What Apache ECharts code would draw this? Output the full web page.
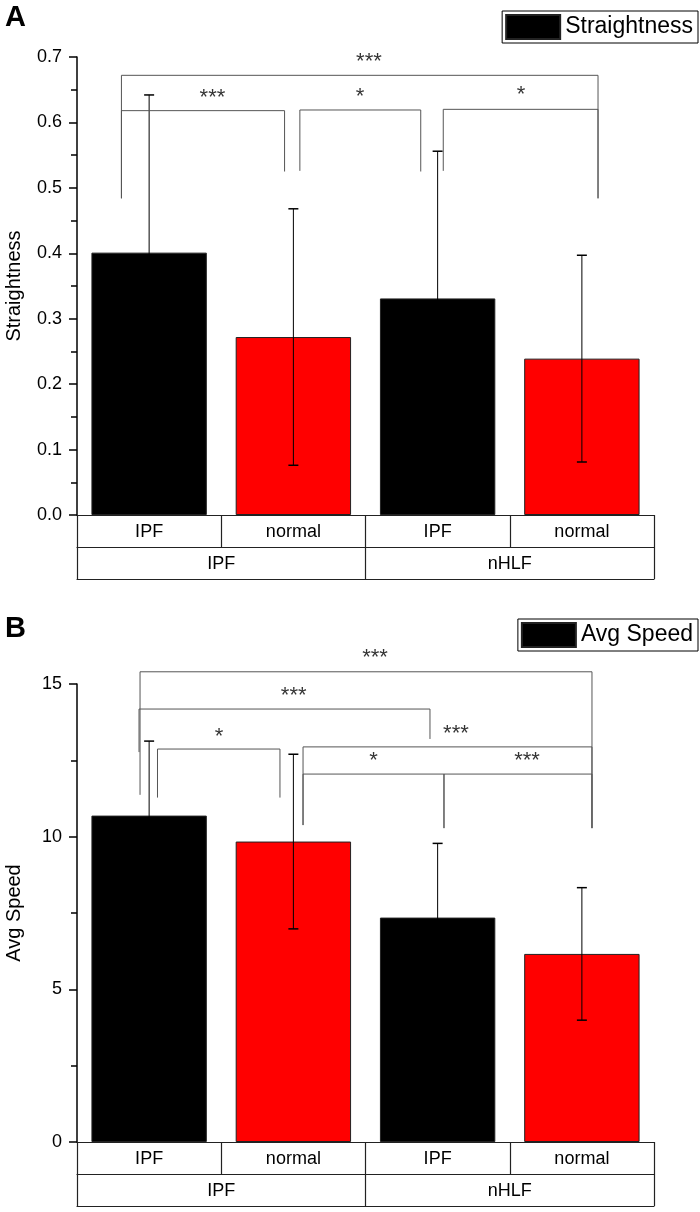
<!DOCTYPE html>
<html><head><meta charset="utf-8">
<script src="https://cdn.jsdelivr.net/npm/echarts@6/dist/echarts.min.js"></script>
<style>html,body{margin:0;padding:0;background:#fff}#c{width:700px;height:1212px}</style>
</head><body><div id="c"></div>
<script>
// ---------- data ----------
const categories = ['IPF', 'normal', 'IPF', 'normal'];
const groups = ['IPF', 'nHLF'];
const barColors = ['#000000', '#ff0000', '#000000', '#ff0000'];

const straightMean = [0.401, 0.272, 0.331, 0.239];
const straightSD   = [0.241, 0.196, 0.225, 0.158];
const speedMean    = [10.69, 9.84, 7.35, 6.16];
const speedSD      = [2.44, 2.86, 2.43, 2.17];

// significance brackets: [xStart, xEnd, yLine, yLegStartBottom, yLegEndBottom]  (x in category slots 0..4)
const straightBrackets = [
  [0.308, 3.612, 0.672, 0.484, 0.484],
  [0.308, 1.439, 0.618, 0.484, 0.525],
  [1.545, 2.383, 0.619, 0.526, 0.525],
  [2.539, 3.612, 0.620, 0.526, 0.484]
];
const straightStars = [
  ['***', 2.024, 0.700],
  ['***', 0.939, 0.645],
  ['*',   1.962, 0.647],
  ['*',   3.078, 0.649]
];
const speedBrackets = [
  [0.437, 3.570, 15.40, 11.37, 10.28],
  [0.430, 2.447, 14.18, 12.77, 13.20],
  [0.558, 1.407, 12.87, 11.28, 11.28],
  [1.567, 3.570, 12.94, 10.38, 10.28],
  [1.567, 2.544, 12.05, 10.38, 10.28],
  [2.544, 3.570, 12.05, 10.28, 10.28]
];
const speedStars = [
  ['***', 2.066, 16.02],
  ['***', 1.502, 14.78],
  ['*',   0.984, 13.44],
  ['***', 2.627, 13.53],
  ['*',   2.055, 12.65],
  ['***', 3.120, 12.65]
];

// ---------- chart ----------
const FONT = '"Liberation Sans", Arial, sans-serif';
const chart = echarts.init(document.getElementById('c'), null, {renderer: 'canvas'});

function yAxis(gi, name, max, interval, fmt) {
  return {
    type: 'value', gridIndex: gi, min: 0, max: max, interval: interval,
    name: name, nameLocation: 'middle', nameGap: 53,
    nameTextStyle: {fontSize: 20, color: '#000', fontFamily: FONT},
    axisLine: {show: true, lineStyle: {color: '#000', width: 1.5}},
    axisTick: {show: true, inside: false, length: 8, lineStyle: {color: '#000', width: 1.5}},
    minorTick: {show: true, splitNumber: 2, length: 6, lineStyle: {color: '#000', width: 1.5}},
    axisLabel: {fontSize: 18, color: '#000', margin: 15, fontFamily: FONT, formatter: fmt},
    splitLine: {show: false}, minorSplitLine: {show: false}
  };
}
function xAxes(gi) {
  const lineStyle = {color: '#222', width: 1.2};
  return [
    {type: 'category', gridIndex: gi, data: categories, position: 'bottom',
     axisLine: {show: true, lineStyle: lineStyle},
     axisTick: {show: true, interval: 0, length: 32, lineStyle: lineStyle},
     axisLabel: {interval: 0, fontSize: 18, color: '#000', margin: 8, fontFamily: FONT},
     splitLine: {show: false}},
    {type: 'category', gridIndex: gi, data: groups, position: 'bottom', offset: 32,
     axisLine: {show: true, lineStyle: lineStyle},
     axisTick: {show: true, interval: 0, length: 32, lineStyle: lineStyle},
     axisLabel: {interval: 0, fontSize: 18, color: '#000', margin: 8, fontFamily: FONT},
     splitLine: {show: false}},
    {type: 'category', gridIndex: gi, data: groups, position: 'bottom', offset: 64,
     axisLine: {show: true, lineStyle: lineStyle},
     axisTick: {show: false}, axisLabel: {show: false}, splitLine: {show: false}},
    {type: 'value', gridIndex: gi, min: 0, max: 4, show: false}
  ];
}
function errRender(params, api) {
  const x = api.value(0);
  const pLo = api.coord([x, api.value(1)]);
  const pHi = api.coord([x, api.value(2)]);
  const h = 5;
  return {type: 'group', children: [
    {type: 'line', shape: {x1: pHi[0], y1: pHi[1], x2: pLo[0], y2: pLo[1]}, style: {stroke: '#000', lineWidth: 1, fill: null}},
    {type: 'line', shape: {x1: pHi[0] - h, y1: pHi[1], x2: pHi[0] + h, y2: pHi[1]}, style: {stroke: '#000', lineWidth: 1.5, fill: null}},
    {type: 'line', shape: {x1: pLo[0] - h, y1: pLo[1], x2: pLo[0] + h, y2: pLo[1]}, style: {stroke: '#000', lineWidth: 1.5, fill: null}}
  ]};
}
function panelSeries(name, xBase, yIdx, mean, sd, brackets, stars) {
  const s = [];
  s.push({
    type: 'bar', name: name, xAxisIndex: xBase, yAxisIndex: yIdx, barWidth: '80%',
    itemStyle: {color: '#000', borderColor: '#222', borderWidth: 1},
    data: mean.map((v, i) => ({value: v, itemStyle: {color: barColors[i]}})),
    z: 2
  });
  s.push({
    type: 'custom', name: name + ' SD', xAxisIndex: xBase, yAxisIndex: yIdx,
    renderItem: errRender, encode: {x: 0, y: [1, 2]},
    data: mean.map((v, i) => [i, v - sd[i], v + sd[i]]), z: 5, silent: true
  });
  brackets.forEach(b => {
    s.push({
      type: 'line', xAxisIndex: xBase + 3, yAxisIndex: yIdx, symbol: 'none', clip: false, silent: true,
      lineStyle: {color: '#555', width: 1},
      data: [[b[0], b[3]], [b[0], b[2]], [b[1], b[2]], [b[1], b[4]]], z: 6
    });
  });
  s.push({
    type: 'scatter', xAxisIndex: xBase + 3, yAxisIndex: yIdx, clip: false, silent: true,
    symbolSize: 1, itemStyle: {color: 'rgba(0,0,0,0)'},
    label: {show: true, position: 'inside', formatter: '{b}', fontSize: 22, color: '#000',
            fontFamily: FONT, offset: [0, 5]},
    data: stars.map(st => ({name: st[0], value: [st[1], st[2]]})), z: 7
  });
  return s;
}

const legendBase = {
  orient: 'horizontal', right: 2, itemWidth: 54, itemHeight: 24, padding: [3, 5, 3, 3],
  borderColor: '#000', borderWidth: 1, icon: 'rect', itemGap: 8,
  textStyle: {fontSize: 23, color: '#000', fontFamily: FONT}
};

chart.setOption({
  animation: false,
  textStyle: {fontFamily: FONT},
  title: [
    {text: 'A', left: 5, top: 3, padding: 0, textStyle: {fontSize: 29, fontWeight: 'bold', color: '#000', fontFamily: FONT}},
    {text: 'B', left: 5, top: 614, padding: 0, textStyle: {fontSize: 29, fontWeight: 'bold', color: '#000', fontFamily: FONT}}
  ],
  legend: [
    Object.assign({}, legendBase, {top: 11, data: ['Straightness']}),
    Object.assign({}, legendBase, {top: 619, data: ['Avg Speed']})
  ],
  grid: [
    {left: 77, right: 46, top: 57, height: 458, outerBoundsMode: 'none', containLabel: false},
    {left: 77, right: 46, top: 684, height: 458, outerBoundsMode: 'none', containLabel: false}
  ],
  xAxis: xAxes(0).concat(xAxes(1)),
  yAxis: [
    yAxis(0, 'Straightness', 0.7, 0.1, v => v.toFixed(1)),
    yAxis(1, 'Avg Speed', 15, 5, v => String(v))
  ],
  series: panelSeries('Straightness', 0, 0, straightMean, straightSD, straightBrackets, straightStars)
    .concat(panelSeries('Avg Speed', 4, 1, speedMean, speedSD, speedBrackets, speedStars))
});
</script>
</body></html>
